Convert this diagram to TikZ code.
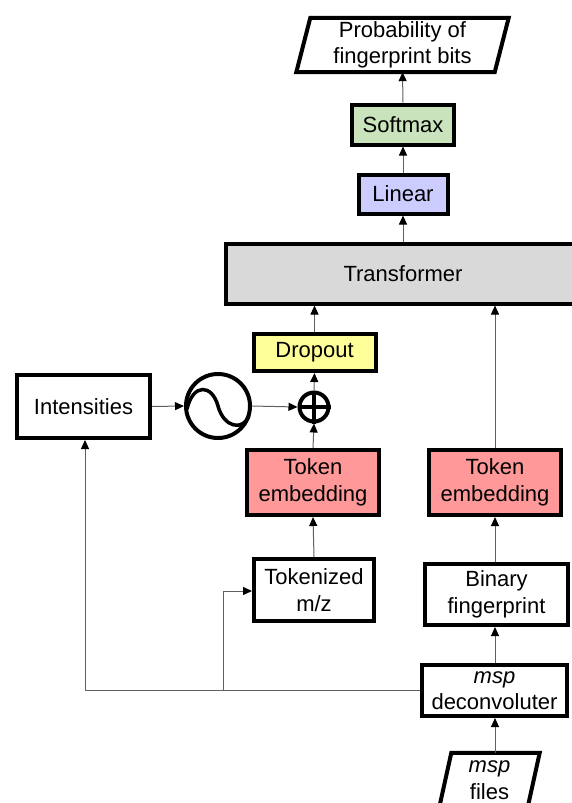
\documentclass[tikz,border=0pt]{standalone}
\usepackage{fontspec}
\setmainfont{Liberation Sans}
\usetikzlibrary{arrows.meta,calc}
\definecolor{cgreen}{HTML}{C9E4BC}
\definecolor{cblue}{HTML}{CCCCFF}
\definecolor{cyellow}{HTML}{FFFF99}
\definecolor{cred}{HTML}{FF9999}
\definecolor{cgray}{HTML}{D9D9D9}
\definecolor{cline}{HTML}{606060}
\tikzset{
  blk/.style={draw=black,line width=4pt,inner sep=0pt,align=center},
  txt/.style={inner sep=0pt,align=center},
  conn/.style={draw=cline,line width=1pt,-{Triangle[length=9pt,width=8pt,fill=black,color=black]}},
  plain/.style={draw=cline,line width=1pt},
  para/.style={draw=black,line width=4pt,line join=miter},
}
\begin{document}
\begin{tikzpicture}[x=1pt,y=-1pt,font=\fontsize{22}{26.5}\selectfont]
\useasboundingbox (0,0) rectangle (571,803);
% nodes
\node[txt,minimum width=198,minimum height=54] (prob) at (402.5,45) {Probability of\\fingerprint bits};
\draw[para] ($(prob.north west)+(7,0)$) -- ($(prob.north east)+(7,0)$) -- ($(prob.south east)+(-7,0)$) -- ($(prob.south west)+(-7,0)$) -- cycle;
\node[blk,fill=cgreen,minimum width=102,minimum height=40] (softmax) at (403,124.5) {Softmax};
\node[blk,fill=cblue,minimum width=89,minimum height=39] (linear) at (403,194) {Linear};
\node[blk,fill=cgray,minimum width=355,minimum height=60] (trans) at (403,273.5) {Transformer};
\node[blk,fill=cyellow,minimum width=122,minimum height=37] (dropout) at (314.5,352.5) {Dropout};
\node[draw=black,line width=4pt,circle,minimum size=29,inner sep=0pt] (plus) at (314,407) {};
\draw[line width=4pt] (plus.north) -- (plus.south) (plus.west) -- (plus.east);
\node[draw=black,line width=4pt,circle,minimum size=64,inner sep=0pt] (sine) at (218,406) {};
\draw[line width=3.5pt] (187,409) .. controls (193,383) and (212,384) .. (218,406) .. controls (224,428) and (243,431) .. (249,416);
\node[blk,minimum width=133,minimum height=63] (intens) at (83.5,406.5) {Intensities};
\node[blk,fill=cred,minimum width=132,minimum height=65] (tokL) at (313,482.5) {Token\\embedding};
\node[blk,fill=cred,minimum width=132,minimum height=65] (tokR) at (495,482.5) {Token\\embedding};
\node[blk,minimum width=120,minimum height=62] (tokz) at (314,590) {Tokenized\\m/z};
\node[blk,minimum width=143,minimum height=61] (binary) at (496.5,594.5) {Binary\\fingerprint};
\node[blk,minimum width=145,minimum height=51] (deconv) at (494.5,690.5) {\textit{msp}\\deconvoluter};
\node[txt,minimum width=88,minimum height=54] (files) at (489.5,780) {\textit{msp}\\files};
\draw[para] ($(files.north west)+(6,0)$) -- ($(files.north east)+(6,0)$) -- ($(files.south east)+(-6,0)$) -- ($(files.south west)+(-6,0)$) -- cycle;
% connectors
\draw[conn] (softmax.north) -- (prob.south);
\draw[conn] (linear.north) -- (softmax.south);
\draw[conn] (trans.north -| linear) -- (linear.south);
\draw[conn] (dropout.north) -- (dropout.north |- trans.south);
\draw[conn] (plus.north) -- (dropout.south);
\draw[conn] (tokL.north) -- (plus.south);
\draw[conn] (intens.east) -- (sine.west);
\draw[conn] (sine.east) -- (plus.west);
\draw[conn] (tokz.north) -- (tokL.south);
\draw[conn] (tokR.north) -- (tokR.north |- trans.south);
\draw[conn] (binary.north -| tokR) -- (tokR.south);
\draw[conn] (deconv.north -| tokR) -- (binary.south -| tokR);
\draw[conn] (files.north -| tokR) -- (deconv.south -| tokR);
\coordinate (c1) at (85,690.5);
\coordinate (c2) at (223,690.5);
\coordinate (c3) at (223,591);
\draw[plain] (deconv.west) -- (c1);
\draw[conn] (c1) -- (c1 |- intens.south);
\draw[conn] (c2) -- (c3) -- (c3 -| tokz.west);
\end{tikzpicture}
\end{document}
